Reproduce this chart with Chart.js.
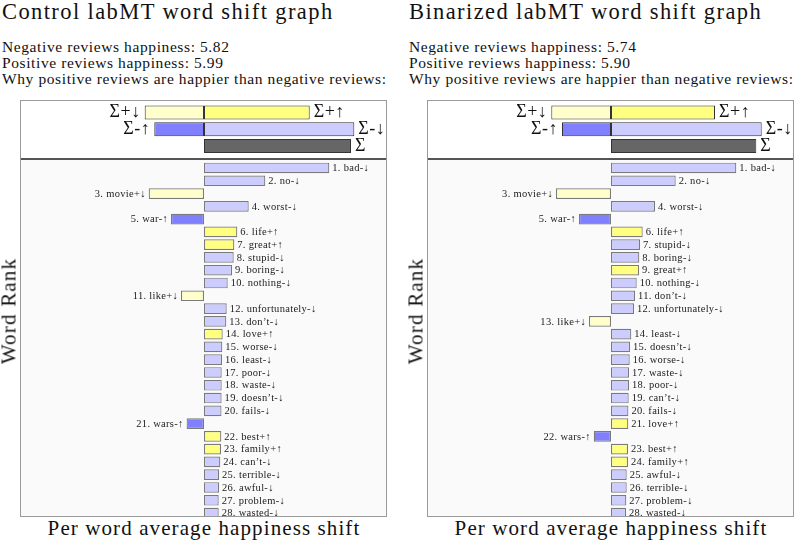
<!DOCTYPE html>
<html>
<head>
<meta charset="utf-8">
<script src="https://cdn.jsdelivr.net/npm/chart.js@4.4.1/dist/chart.umd.min.js"></script>
<style>
  body { margin: 0; width: 797px; height: 545px; overflow: hidden; background: #fff;
         font-family: "Liberation Serif", "DejaVu Serif", serif; color: #111; position: relative; }
  .panel { position: absolute; top: 0; width: 400px; height: 545px; }
  .title { position: absolute; left: 2px; top: -1px; font-size: 22.5px; letter-spacing: 1.4px; white-space: nowrap; }
  .info { position: absolute; left: 2px; top: 38.5px; font-size: 15.5px; line-height: 16.2px; letter-spacing: 0.6px; white-space: nowrap; }
  .frame { position: absolute; left: 20px; top: 100px; width: 367px; height: 417px;
           box-sizing: border-box; border: 1px solid #9a9a9a; }
  .sum { position: absolute; left: 0; top: 0; width: 365px; height: 57px; }
  .divider { position: absolute; left: 0; top: 57px; width: 365px; height: 1.5px; background: #555; }
  .words { position: absolute; left: 0; top: 58.5px; width: 365px; height: 356.5px; background: #fafafa; }
  .ytitle { position: absolute; left: 9px; top: 311px; font-size: 21px; letter-spacing: 1.2px; white-space: nowrap;
            transform: translate(-50%, -50%) rotate(-90deg); }
  .xtitle { position: absolute; left: 204px; top: 516px; font-size: 21px; letter-spacing: 1.1px; white-space: nowrap;
            transform: translateX(-50%); }
</style>
</head>
<body>
<script>
// panel titles and header numbers
const panelTitles = ['Control labMT word shift graph', 'Binarized labMT word shift graph'];
const negHappiness = ['5.82', '5.74'];
const posHappiness = ['5.99', '5.90'];

// summary rows: sum+down, sum+up, sum-up, sum-down, total
const summaryLabels = ['Σ+↓', 'Σ+↑', 'Σ-↑', 'Σ-↓', 'Σ'];
const summaryRows = [1, 1, 2, 2, 3];
const controlSummary = [-0.593, 1.057, -0.497, 1.503, 1.47];
const binarizedSummary = [-0.597, 1.04, -0.49, 1.507, 1.453];

// top 28 words, control
const controlWords = ['bad', 'no', 'movie', 'worst', 'war', 'life', 'great', 'stupid', 'boring', 'nothing',
  'like', 'unfortunately', 'don’t', 'love', 'worse', 'least', 'poor', 'waste', 'doesn’t', 'fails',
  'wars', 'best', 'family', 'can’t', 'terrible', 'awful', 'problem', 'wasted'];
const controlKinds = ['-↓', '-↓', '+↓', '-↓', '-↑', '+↑', '+↑', '-↓', '-↓', '-↓',
  '+↓', '-↓', '-↓', '+↑', '-↓', '-↓', '-↓', '-↓', '-↓', '-↓',
  '-↑', '+↑', '+↑', '-↓', '-↓', '-↓', '-↓', '-↓'];
const controlShifts = [1.253, 0.613, -0.553, 0.447, -0.33, 0.333, 0.303, 0.297, 0.28, 0.237,
  -0.23, 0.227, 0.223, 0.187, 0.183, 0.18, 0.177, 0.177, 0.176, 0.175,
  -0.174, 0.173, 0.17, 0.163, 0.15, 0.15, 0.147, 0.147];

// top 28 words, binarized
const binarizedWords = ['bad', 'no', 'movie', 'worst', 'war', 'life', 'stupid', 'boring', 'great', 'nothing',
  'don’t', 'unfortunately', 'like', 'least', 'doesn’t', 'worse', 'waste', 'poor', 'can’t', 'fails',
  'love', 'wars', 'best', 'family', 'awful', 'terrible', 'problem', 'wasted'];
const binarizedKinds = ['-↓', '-↓', '+↓', '-↓', '-↑', '+↑', '-↓', '-↓', '+↑', '-↓',
  '-↓', '-↓', '+↓', '-↓', '-↓', '-↓', '-↓', '-↓', '-↓', '-↓',
  '+↑', '-↑', '+↑', '+↑', '-↓', '-↓', '-↓', '-↓'];
const binarizedShifts = [1.253, 0.647, -0.55, 0.44, -0.32, 0.317, 0.29, 0.283, 0.28, 0.257,
  0.24, 0.23, -0.22, 0.203, 0.19, 0.187, 0.18, 0.18, 0.177, 0.174,
  0.173, -0.172, 0.17, 0.17, 0.157, 0.157, 0.153, 0.15];

const kindColors = { '+↑': '#ffff80', '+↓': '#ffffcc', '-↑': '#8080ff', '-↓': '#ccccff' };
const summaryColors = ['#ffffcc', '#ffff80', '#8080ff', '#ccccff', '#666666'];

const barLabels = {
  id: 'barLabels',
  afterDatasetsDraw(chart, args, opts) {
    const ctx = chart.ctx, area = chart.chartArea;
    ctx.save();
    ctx.beginPath();
    ctx.rect(area.left, area.top, area.width, area.height);
    ctx.clip();
    ctx.font = opts.font;
    ctx.fillStyle = opts.color;
    ctx.textBaseline = 'middle';
    if ('letterSpacing' in ctx) ctx.letterSpacing = opts.spacing;
    chart.data.datasets.forEach((ds, di) => {
      chart.getDatasetMeta(di).data.forEach((bar, i) => {
        const right = bar.x >= bar.base;
        ctx.textAlign = right ? 'left' : 'right';
        ctx.fillText(ds.labels[i], bar.x + (right ? opts.gap : -opts.gap), bar.y + opts.dy);
      });
    });
    ctx.restore();
  }
};

function baseOptions(yMin, yMax, ticks, labelOpts) {
  return {
    indexAxis: 'y',
    responsive: true,
    maintainAspectRatio: false,
    animation: false,
    layout: { padding: 0 },
    plugins: { legend: { display: false }, tooltip: { enabled: false }, barLabels: labelOpts },
    scales: {
      x: { type: 'linear', min: -1.83, max: 1.82, offset: false, display: false },
      y: { type: 'linear', min: yMin, max: yMax, reverse: true, offset: false, grace: 0, display: false,
           afterBuildTicks: s => { s.ticks = ticks.map(v => ({ value: v })); } }
    }
  };
}

function buildPanel(idx, summary, words, kinds, shifts) {
  const panel = document.createElement('div');
  panel.className = 'panel';
  panel.style.left = (idx * 407) + 'px';
  panel.innerHTML =
    `<div class="title">${panelTitles[idx]}</div>` +
    `<div class="info">Negative reviews happiness: ${negHappiness[idx]}<br>` +
    `Positive reviews happiness: ${posHappiness[idx]}<br>` +
    `Why positive reviews are happier than negative reviews:</div>` +
    `<div class="frame"><div class="sum"><canvas></canvas></div><div class="divider"></div>` +
    `<div class="words"><canvas></canvas></div></div>` +
    `<div class="ytitle">Word Rank</div>` +
    `<div class="xtitle">Per word average happiness shift</div>`;
  document.body.appendChild(panel);
  const canvases = panel.querySelectorAll('canvas');

  new Chart(canvases[0], {
    type: 'bar',
    data: {
      datasets: [{
        data: summary.map((v, i) => ({ x: v, y: summaryRows[i] })),
        labels: summaryLabels,
        backgroundColor: summaryColors,
        borderColor: '#333',
        borderWidth: 1,
        borderSkipped: false,
        barPercentage: 0.84,
        categoryPercentage: 1
      }]
    },
    options: baseOptions(0.31, 3.72, [1, 2, 3],
      { font: '18px "Liberation Serif"', color: '#111', gap: 4, dy: 0, spacing: '0.5px' }),
    plugins: [barLabels]
  });

  const ranks = words.map((w, i) => i + 1);
  new Chart(canvases[1], {
    type: 'bar',
    data: {
      datasets: [{
        data: shifts.map((v, i) => ({ x: v, y: ranks[i] })),
        labels: words.map((w, i) => `${ranks[i]}. ${w}${kinds[i]}`),
        backgroundColor: kinds.map(k => kindColors[k]),
        borderColor: '#7a7a7a',
        borderWidth: 1.2,
        borderSkipped: false,
        barPercentage: 0.835,
        categoryPercentage: 1
      }]
    },
    options: baseOptions(0.375, 28.27, ranks,
      { font: '10.5px "Liberation Serif"', color: '#222', gap: 3, dy: 0.5, spacing: '0.3px' }),
    plugins: [barLabels]
  });
}

buildPanel(0, controlSummary, controlWords, controlKinds, controlShifts);
buildPanel(1, binarizedSummary, binarizedWords, binarizedKinds, binarizedShifts);
</script>
</body>
</html>
